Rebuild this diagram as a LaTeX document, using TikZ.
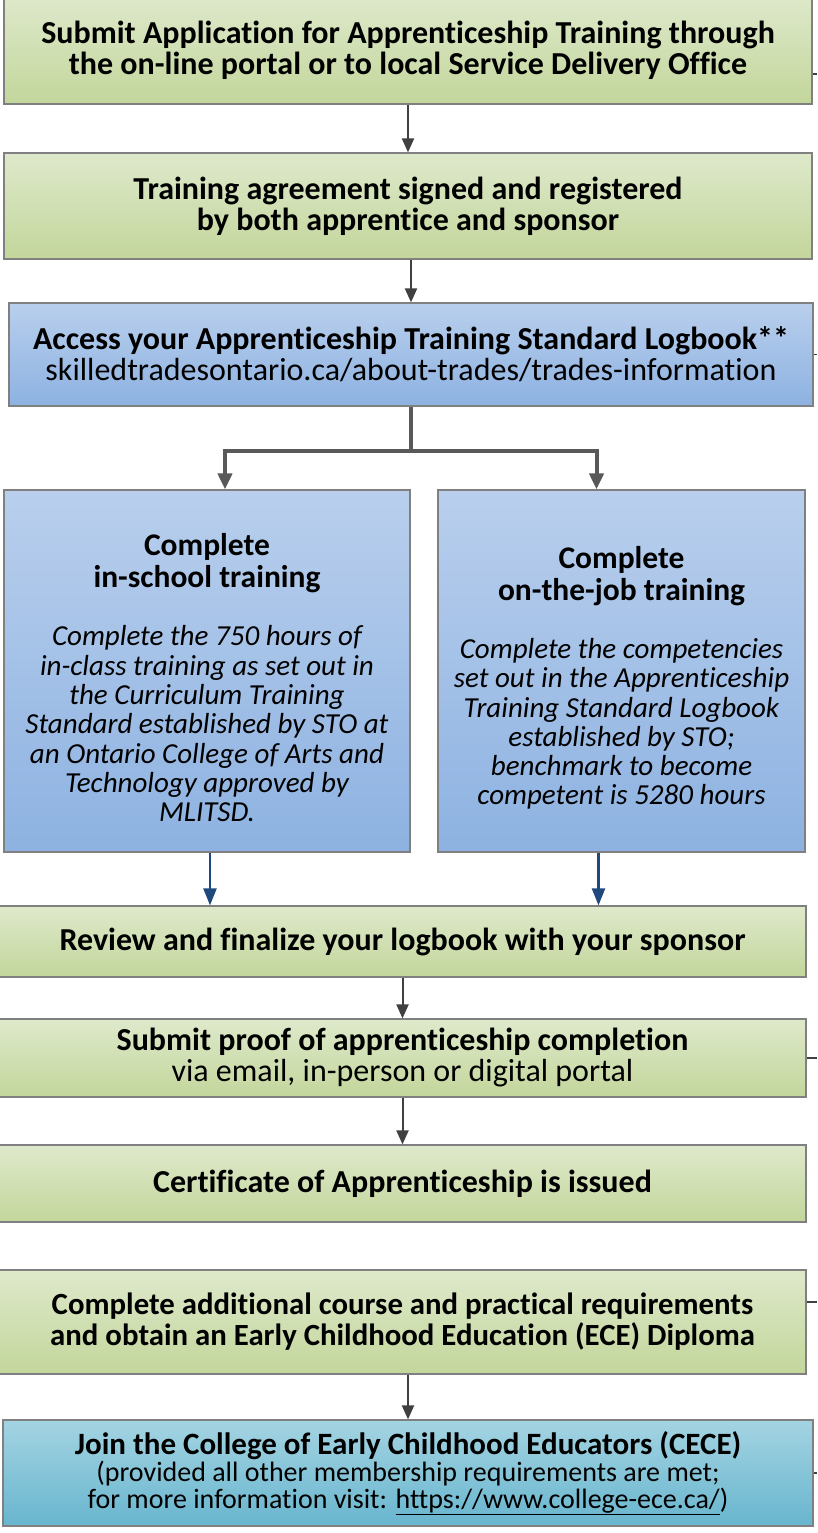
\documentclass[tikz,border=0pt]{standalone}
\usepackage{fontspec}
\setmainfont{Carlito}[Ligatures=NoCommon]
\usetikzlibrary{arrows.meta, positioning, calc}
\definecolor{greentop}{RGB}{222,233,203}
\definecolor{greenbot}{RGB}{195,214,155}
\definecolor{bluetop}{RGB}{185,207,237}
\definecolor{bluebot}{RGB}{141,178,225}
\definecolor{tealtop}{RGB}{164,212,226}
\definecolor{tealbot}{RGB}{104,181,206}
\definecolor{boxline}{RGB}{128,128,128}
\definecolor{flowgray}{RGB}{64,64,64}
\definecolor{splitgray}{RGB}{89,89,89}
\definecolor{flowblue}{RGB}{31,73,125}
\newcommand{\stagetitle}{\fontsize{31.5}{32}\selectfont\bfseries}
\newcommand{\stagenote}{\fontsize{29}{29.3}\selectfont\itshape}
\tikzset{
  stage/.style={draw=boxline,line width=1.2pt,align=center,inner sep=0pt,font=\fontsize{32}{31}\selectfont},
  stagegreen/.style={stage,top color=greentop,bottom color=greenbot},
  stageblue/.style={stage,top color=bluetop,bottom color=bluebot},
  stageteal/.style={stage,top color=tealtop,bottom color=tealbot},
  stream/.style={stageblue,minimum height=362pt,font=\fontsize{29}{29.3}\selectfont},
  flow/.style={draw=flowgray,line width=2pt,-{Triangle[length=14pt,width=12pt]}},
  split/.style={draw=splitgray,line width=4pt},
  splitarrow/.style={split,-{Triangle[length=16pt,width=14pt]}},
  flowblue/.style={draw=flowblue,line width=2.2pt,-{Triangle[length=17pt,width=13pt]}},
  stub/.style={draw=flowgray,line width=1.5pt},
}
\begin{document}
\begin{tikzpicture}[x=1pt,y=-1pt]
    \useasboundingbox[fill=white] (0,0) rectangle (817,1533);
    \coordinate (rim) at (817,0);
    % top part: application and logbook
    \node[stagegreen,minimum width=808pt,minimum height=108pt] (submit) at (408,50)
        {\bfseries Submit Application for Apprenticeship Training through\\\bfseries the on-line portal or to local Service Delivery Office};
    \node[stagegreen,minimum width=808pt,minimum height=106pt] (signed) at (408,206)
        {\bfseries Training agreement signed and registered\\\bfseries by both apprentice and sponsor};
    \node[stageblue,minimum width=804pt,minimum height=103pt] (access) at (411,354.5)
        {\bfseries Access your Apprenticeship Training Standard Logbook**\\skilledtradesontario.ca/about-trades/trades-information};
    % the two training streams
    \node[stream,minimum width=406pt] (school) at (207,671)
        {\stagetitle\rule{0pt}{36pt}Complete\\[2.7pt]\stagetitle in-school training\\[28.7pt]
         \stagenote Complete the 750 hours of\\\stagenote in-class training as set out in\\\stagenote the Curriculum Training\\\stagenote Standard established by STO at\\\stagenote an Ontario College of Arts and\\\stagenote Technology approved by\\\stagenote MLITSD.};
    \node[stream,minimum width=367pt] (job) at (621.5,671)
        {\stagetitle\rule{0pt}{36pt}Complete\\[2.7pt]\stagetitle on-the-job training\\[28.7pt]
         \stagenote Complete the competencies\\\stagenote set out in the Apprenticeship\\\stagenote Training Standard Logbook\\\stagenote established by STO;\\\stagenote benchmark to become\\\stagenote competent is 5280 hours};
    % completion
    \node[stagegreen,minimum width=807pt,minimum height=71pt] (review) at (402.5,941.5)
        {\bfseries Review and finalize your logbook with your sponsor};
    \node[stagegreen,minimum width=807pt,minimum height=78pt] (proof) at (402.5,1058)
        {\bfseries Submit proof of apprenticeship completion\\via email, in-person or digital portal};
    \node[stagegreen,minimum width=807pt,minimum height=77pt] (cert) at (402.5,1183.5)
        {\bfseries Certificate of Apprenticeship is issued};
    \node[stagegreen,minimum width=807pt,minimum height=104pt,font=\fontsize{30.8}{31}\selectfont] (ece) at (402.5,1322)
        {\bfseries Complete additional course and practical requirements\\\bfseries and obtain an Early Childhood Education (ECE) Diploma};
    \node[stageteal,minimum width=810pt,minimum height=106pt,font=\fontsize{31}{27}\selectfont] (cece) at (408,1473)
        {\bfseries Join the College of Early Childhood Educators (CECE)\\
         \fontsize{28}{27}\selectfont (provided all other membership requirements are met;\\
         \fontsize{28}{27}\selectfont for more information visit: \underline{https://www.college-ece.ca/})};

    \draw[flow] (submit.south) -- (signed.north);
    \draw[flow] (signed.south -| access.south) -- (access.north);
    \coordinate (fork) at ($(access.south)+(0,44)$);
    \draw[split] (access.south) -- (fork);
    \draw[splitarrow] (fork) -| ($(school.north)+(18,0)$);
    \draw[splitarrow] (fork) -| ($(job.north)+(-25,0)$);
    \coordinate (schoolout) at ($(school.south)+(3,0)$);
    \coordinate (jobout) at ($(job.south)+(-23,0)$);
    \draw[flowblue] (schoolout) -- (schoolout |- review.north);
    \draw[flowblue] (jobout) -- (jobout |- review.north);
    \draw[flow] (review.south) -- (proof.north);
    \draw[flow] (proof.south) -- (cert.north);
    \draw[flow] (ece.south -| cece.north) -- (cece.north);
    % cut-off links on the right
    \draw[stub] ([yshift=-24pt]submit.east) -- ([yshift=-24pt]submit.east -| rim);
    \draw[stub] (access.east) -- (access.east -| rim);
    \draw[stub] (proof.east) -- (proof.east -| rim);
    \draw[stub] ([yshift=20pt]ece.east) -- ([yshift=20pt]ece.east -| rim);
    \draw[stub] (cece.east) -- (cece.east -| rim);
\end{tikzpicture}
\end{document}
